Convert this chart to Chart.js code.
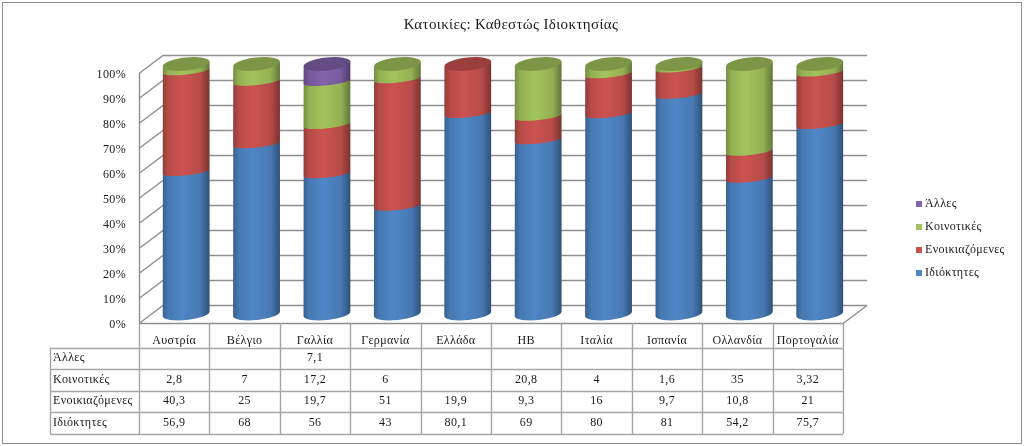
<!DOCTYPE html>
<html>
<head>
<meta charset="utf-8">
<script src="https://cdn.jsdelivr.net/npm/chart.js@4"></script>
<style>
  html, body { margin: 0; padding: 0; background: #fff; }
  #wrap { width: 1024px; height: 446px; }
</style>
</head>
<body>
<div id="wrap"><canvas id="chart" width="1024" height="446"></canvas></div>
<script>
const categories = ["Αυστρία", "Βέλγιο", "Γαλλία", "Γερμανία", "Ελλάδα", "ΗΒ", "Ιταλία", "Ισπανία", "Ολλανδία", "Πορτογαλία"];
const owners = [56.9, 68, 56, 43, 80.1, 69, 80, 81, 54.2, 75.7];
const rented = [40.3, 25, 19.7, 51, 19.9, 9.3, 16, 9.7, 10.8, 21];
const communal = [2.8, 7, 17.2, 6, null, 20.8, 4, 1.6, 35, 3.32];
const others = [null, null, 7.1, null, null, null, null, null, null, null];

const seriesNames = ["Ιδιόκτητες", "Ενοικιαζόμενες", "Κοινοτικές", "Άλλες"];
const seriesValues = [owners, rented, communal, others];
const seriesColors = ["#4f86c6", "#cb5350", "#a3c45c", "#8263ad"];

const FONT = "'Liberation Serif', serif";
const TEXT = "#1a1a1a";
const GRID = "#8f8f8f";
const TABLE_LINE = "#a6a6a6";
const DEPTH_X = 24; // wall depth
const DEPTH_Y = 18;
const BAR_DX = 12;  // bars stand in the middle of the floor
const BAR_DY = 9;
const TILT = -6 * Math.PI / 180;

// 100% stacked: every column is a share of its own total
function shares(values) {
  return values.map((v, i) => {
    if (v === null) return null;
    const total = seriesValues.reduce((sum, s) => sum + (s[i] || 0), 0);
    return v / total * 100;
  });
}

function shade(hex, f) {
  const n = parseInt(hex.slice(1), 16);
  const c = [n >> 16, (n >> 8) & 255, n & 255].map((v) => Math.round(v * f));
  return `rgb(${c[0]},${c[1]},${c[2]})`;
}

// bars are drawn as cylinders, geometry still comes from the bar element
Chart.BarElement.prototype.draw = function (ctx) {
  const { x, y, base, width, options } = this;
  const r = width / 2;
  const lift = r * Math.sin(-TILT);
  const color = options.backgroundColor;
  const grad = ctx.createLinearGradient(x - r, 0, x + r, 0);
  grad.addColorStop(0, shade(color, 0.72));
  grad.addColorStop(0.12, shade(color, 0.9));
  grad.addColorStop(0.42, shade(color, 1));
  grad.addColorStop(0.8, shade(color, 0.9));
  grad.addColorStop(1, shade(color, 0.6));
  ctx.save();
  ctx.translate(BAR_DX, -BAR_DY);
  ctx.fillStyle = grad;
  ctx.beginPath();
  ctx.ellipse(x, y, r, 3.5, TILT, 0, Math.PI);
  ctx.lineTo(x - r, base + lift);
  ctx.ellipse(x, base, r, 6, TILT, Math.PI, 0, true);
  ctx.closePath();
  ctx.fill();
  ctx.restore();
};

const wallsPlugin = {
  id: "walls",
  // title centred on the whole picture, not only on the plot
  afterLayout(chart) {
    chart.titleBlock.left = 0;
    chart.titleBlock.right = 1022;
  },
  beforeDraw(chart) {
    chart.ctx.letterSpacing = "0.35px"; // reference text is set a bit wider
  },
  beforeDatasetsDraw(chart) {
    const { ctx, chartArea: a, scales } = chart;
    ctx.save();
    ctx.strokeStyle = GRID;
    ctx.lineWidth = 1.4;
    ctx.beginPath();
    scales.y.ticks.forEach((t) => {
      const y = Math.round(scales.y.getPixelForValue(t.value)) + 0.5;
      ctx.moveTo(a.left, y);
      ctx.lineTo(a.left + DEPTH_X, y - DEPTH_Y);
      ctx.lineTo(a.right + DEPTH_X, y - DEPTH_Y);
    });
    ctx.moveTo(a.left + 0.5, a.top);
    ctx.lineTo(a.left + 0.5, a.bottom);
    ctx.moveTo(a.left, a.bottom + 0.5);
    ctx.lineTo(a.right, a.bottom + 0.5);
    ctx.lineTo(a.right + DEPTH_X, a.bottom + 0.5 - DEPTH_Y);
    ctx.stroke();
    ctx.restore();
  },
};

const capsPlugin = {
  id: "caps",
  afterDatasetsDraw(chart) {
    const { ctx } = chart;
    categories.forEach((_, i) => {
      for (let d = seriesValues.length - 1; d >= 0; d--) {
        if (seriesValues[d][i] === null) continue;
        const el = chart.getDatasetMeta(d).data[i];
        ctx.save();
        ctx.translate(BAR_DX, -BAR_DY);
        ctx.fillStyle = shade(seriesColors[d], 0.76);
        ctx.beginPath();
        ctx.ellipse(el.x, el.y, el.width / 2, 6.5, TILT, 0, Math.PI * 2);
        ctx.fill();
        ctx.restore();
        break;
      }
    });
  },
};

const tablePlugin = {
  id: "dataTable",
  afterDraw(chart) {
    const { ctx, chartArea: a, scales } = chart;
    const colW = (a.right - a.left) / categories.length;
    const rowTop = 347.5, rowH = 21.6, labelLeft = 50.5;
    const order = [3, 2, 1, 0];

    ctx.save();
    ctx.strokeStyle = TABLE_LINE;
    ctx.lineWidth = 1.4;
    ctx.beginPath();
    for (let i = 0; i <= categories.length; i++) {
      const x = Math.round(a.left + colW * i) + 0.5;
      ctx.moveTo(x, a.bottom);
      ctx.lineTo(x, rowTop + rowH * 4);
    }
    for (let r = 0; r <= 4; r++) {
      const y = Math.round(rowTop + rowH * r) + 0.5;
      ctx.moveTo(labelLeft, y);
      ctx.lineTo(a.right, y);
    }
    ctx.moveTo(labelLeft, rowTop);
    ctx.lineTo(labelLeft, Math.round(rowTop + rowH * 4) + 0.5);
    ctx.stroke();

    ctx.fillStyle = TEXT;
    ctx.font = `12px ${FONT}`;
    ctx.textBaseline = "middle";
    order.forEach((d, r) => {
      const y = rowTop + rowH * r + 10.5;
      ctx.textAlign = "left";
      ctx.fillText(seriesNames[d], 53, y);
      ctx.textAlign = "center";
      seriesValues[d].forEach((v, i) => {
        if (v === null) return;
        ctx.fillText(String(v).replace(".", ","), scales.x.getPixelForTick(i), y);
      });
    });

    // legend, top entry is the last series
    const legendY = [204, 227, 250, 273];
    ctx.textAlign = "left";
    order.forEach((d, r) => {
      ctx.fillStyle = seriesColors[d];
      ctx.fillRect(916, legendY[r] - 3, 6, 6);
      ctx.fillStyle = TEXT;
      ctx.fillText(seriesNames[d], 925, legendY[r]);
    });

    // outer frame
    ctx.lineWidth = 1;
    ctx.strokeStyle = "#8c8c8c";
    ctx.strokeRect(2.5, 2.5, 1019, 441);
    ctx.restore();
  },
};

new Chart(document.getElementById("chart"), {
  type: "bar",
  data: {
    labels: categories,
    datasets: seriesNames.map((name, i) => ({
      label: name,
      data: shares(seriesValues[i]),
      backgroundColor: seriesColors[i],
      categoryPercentage: 1,
      barPercentage: 0.667,
      clip: false,
    })),
  },
  options: {
    responsive: false,
    animation: false,
    layout: { padding: { left: 0, right: 181, top: 0, bottom: 0 } },
    plugins: {
      legend: { display: false },
      tooltip: { enabled: false },
      title: {
        display: true,
        text: "Κατοικίες: Καθεστώς Ιδιοκτησίας",
        color: TEXT,
        font: { family: FONT, size: 15, weight: "normal" },
        padding: { top: 16, bottom: 39 },
      },
    },
    scales: {
      x: {
        stacked: true,
        grid: { display: false },
        border: { display: false },
        ticks: { color: TEXT, font: { family: FONT, size: 12 }, padding: 3, maxRotation: 0, autoSkip: false },
        afterFit(s) { s.height = 123; },
      },
      y: {
        stacked: true,
        min: 0,
        max: 100,
        grid: { display: false },
        border: { display: false },
        ticks: { stepSize: 10, color: TEXT, font: { family: FONT, size: 12 }, padding: 5, labelOffset: 2, callback: (v) => `${v}%` },
        afterFit(s) { s.width = 139; },
      },
    },
  },
  plugins: [wallsPlugin, capsPlugin, tablePlugin],
});
</script>
</body>
</html>
